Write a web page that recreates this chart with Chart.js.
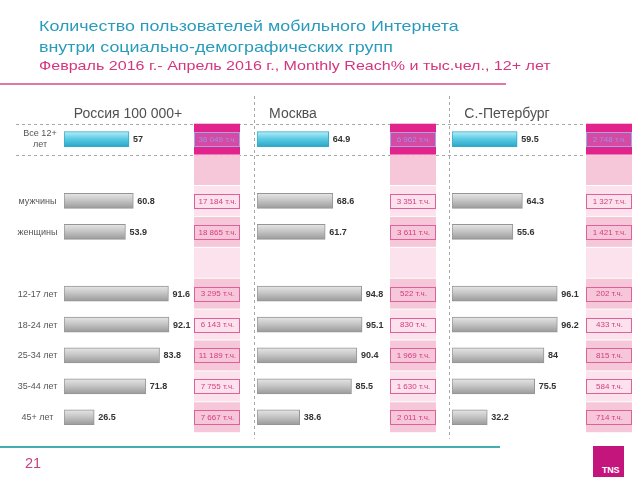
<!DOCTYPE html>
<html><head><meta charset="utf-8">
<script src="https://cdn.jsdelivr.net/npm/chart.js@4"></script>
<style>
body{margin:0;background:#fff;width:640px;height:480px;overflow:hidden;position:relative;font-family:"Liberation Sans",Arial,sans-serif;}
canvas{position:absolute;left:0;top:0;}
.t{position:absolute;white-space:nowrap;line-height:1;}
.s{transform:scaleX(1.19);transform-origin:0 0;}
.h{position:absolute;white-space:nowrap;line-height:1;font-size:14px;color:#505050;text-align:center;width:200px;}
</style></head><body>
<canvas id="c1" width="640" height="480"></canvas>
<canvas id="c2" width="640" height="480"></canvas>
<canvas id="c3" width="640" height="480"></canvas>
<div class="t s" style="left:39px;top:17.5px;font-size:15px;color:#2a9bbd">Количество пользователей мобильного Интернета</div>
<div class="t s" style="left:39px;top:39px;font-size:15px;color:#2a9bbd">внутри социально-демографических групп</div>
<div class="t s" style="left:39px;top:59px;font-size:13.5px;color:#d5357e">Февраль 2016 г.- Апрель 2016 г., Monthly Reach% и тыс.чел., 12+ лет</div>
<div style="position:absolute;left:0;top:83px;width:506px;height:2px;background:#dc7aa6"></div>
<div id="h1" class="h" style="left:28px;top:106px"></div>
<div id="h2" class="h" style="left:193px;top:106px"></div>
<div id="h3" class="h" style="left:407px;top:106px"></div>
<div style="position:absolute;left:0;top:446px;width:500px;height:2px;background:#45aeb0"></div>
<div class="t" style="left:25px;top:456px;font-size:14.5px;color:#c8407f">21</div>
<div style="position:absolute;left:593px;top:446px;width:31px;height:31px;background:#c4157c"></div>
<div class="t" style="left:602px;top:466px;font-size:9px;font-weight:bold;color:#fff;letter-spacing:-0.3px">TNS</div>
<script>
const categories = [['Все 12+','лет'],'','мужчины','женщины','','12-17 лет','18-24 лет','25-34 лет','35-44 лет','45+ лет'];
const reachRussia = [57,null,60.8,53.9,null,91.6,92.1,83.8,71.8,26.5];
const reachMoscow = [64.9,null,68.6,61.7,null,94.8,95.1,90.4,85.5,38.6];
const reachSpb    = [59.5,null,64.3,55.6,null,96.1,96.2,84,75.5,32.2];
const thousandsRussia = [36049,null,17184,18865,null,3295,6143,11189,7755,7667];
const thousandsMoscow = [6962,null,3351,3611,null,522,830,1969,1630,2011];
const thousandsSpb    = [2748,null,1327,1421,null,202,433,815,584,714];
const panelTitles = ['Россия 100 000+','Москва','С.-Петербург'];

document.getElementById('h1').textContent = panelTitles[0];
document.getElementById('h2').textContent = panelTitles[1];
document.getElementById('h3').textContent = panelTitles[2];

const FONT = '"Liberation Sans", Arial, sans-serif';
function fmt(v){ return String(v).replace(/\B(?=(\d{3})+(?!\d))/g,' '); }

function barFill(ctx){
  const chart = ctx.chart, ca = chart.chartArea;
  const isTotal = ctx.dataIndex === 0;
  if(!ca || ctx.dataIndex === undefined || !isFinite(ca.top) || !isFinite(ca.bottom)) return isTotal ? '#5fcde5' : '#c4c4c4';
  const slot = (ca.bottom - ca.top) / categories.length;
  const yc = ca.top + slot * (ctx.dataIndex + 0.5);
  const g = chart.ctx.createLinearGradient(0, yc-7.5, 0, yc+7.5);
  if(isTotal){
    g.addColorStop(0,'#b8eef8'); g.addColorStop(0.45,'#5fcde5'); g.addColorStop(1,'#2aa6c6');
  } else {
    g.addColorStop(0,'#e6e6e6'); g.addColorStop(0.45,'#c6c6c6'); g.addColorStop(1,'#9a9a9a');
  }
  return g;
}

function decor(cfg, thousands){
  return {
    id: 'decor'+cfg.id,
    beforeDatasetsDraw(chart){
      const {ctx, chartArea, scales:{y}} = chart;
      const slot = y.getPixelForValue(1) - y.getPixelForValue(0);
      const top = y.getPixelForValue(0) - slot/2;
      const bottom = y.getPixelForValue(categories.length-1) + slot/2;
      ctx.save();
      ctx.lineWidth = 1;
      ctx.strokeStyle = '#a8a8a8';
      ctx.setLineDash([3,3]);
      if(cfg.id === 0){
        [top, top+slot].forEach(v => {
          const yy = Math.round(v) + 0.5;
          ctx.beginPath(); ctx.moveTo(16, yy); ctx.lineTo(586, yy); ctx.stroke();
        });
      } else {
        const xx = Math.round(chartArea.left - 3) + 0.5;
        ctx.beginPath(); ctx.moveTo(xx, 96); ctx.lineTo(xx, bottom + 6); ctx.stroke();
      }
      ctx.setLineDash([]);
      const cx = chartArea.left + cfg.col;
      for(let i=0;i<categories.length;i++){
        const y0 = top + i*slot;
        if(i === 0){ ctx.fillStyle = '#e2238c'; ctx.fillRect(cx, y0, 46, slot); }
        else { ctx.fillStyle = (i % 2) ? '#f6c6d9' : '#fbe2ec'; ctx.fillRect(cx, y0 + 0.5, 46, slot - 1); }
      }
      ctx.restore();
    },
    afterDatasetsDraw(chart){
      const {ctx, chartArea, scales:{y}} = chart;
      const meta = chart.getDatasetMeta(0);
      const data = chart.data.datasets[0].data;
      const cx = chartArea.left + cfg.col;
      ctx.save();
      ctx.textBaseline = 'middle';
      for(let i=0;i<categories.length;i++){
        const yc = y.getPixelForValue(i);
        if(data[i] != null){
          const el = meta.data[i];
          ctx.font = 'bold 9px ' + FONT;
          ctx.fillStyle = '#333';
          ctx.textAlign = 'left';
          ctx.fillText(String(data[i]), el.x + 4, el.y + 0.5);
        }
        const v = thousands[i];
        if(v != null){
          const bx = Math.round(cx) + 0.5, by = Math.round(yc - 7) + 0.5;
          if(i === 0){
            ctx.fillStyle = '#d64aa4'; ctx.fillRect(bx, by, 45, 14);
            ctx.strokeStyle = '#9ea6e8';
          } else {
            ctx.strokeStyle = '#e0609c';
          }
          ctx.lineWidth = 1;
          ctx.strokeRect(bx, by, 45, 14);
          ctx.font = '8px ' + FONT;
          ctx.fillStyle = i === 0 ? '#9393ea' : '#d83a82';
          ctx.textAlign = 'center';
          ctx.fillText(fmt(v) + ' т.ч.', bx + 23, yc + 0.5);
        }
        if(cfg.id === 0){
          const lab = categories[i];
          ctx.font = '9px ' + FONT;
          ctx.fillStyle = '#555';
          ctx.textAlign = 'center';
          if(Array.isArray(lab)){
            ctx.fillText(lab[0], 40, yc - 5.5);
            ctx.fillText(lab[1], 40, yc + 5.5);
          } else if(lab){
            ctx.fillText(lab, 37.5, yc + 0.5);
          }
        }
      }
      ctx.restore();
    }
  };
}

function makeChart(id, reach, thousands, cfg){
  return new Chart(document.getElementById(id), {
    type: 'bar',
    data: { labels: categories, datasets: [{
      data: reach,
      backgroundColor: barFill,
      borderColor: c => c.dataIndex === 0 ? '#35a9c8' : '#959595',
      borderWidth: 1,
      borderSkipped: false,
      barThickness: 15
    }]},
    options: {
      indexAxis: 'y',
      responsive: false,
      animation: false,
      events: [],
      layout: { padding: { left: cfg.left, right: 640 - cfg.left - cfg.w, top: 123.7, bottom: 47.3 } },
      scales: { x: { display: false, min: 0, max: 100 }, y: { display: false } },
      plugins: { legend: { display: false }, tooltip: { enabled: false } }
    },
    plugins: [decor(cfg, thousands)]
  });
}

makeChart('c1', reachRussia, thousandsRussia, {id:0, left:64, w:114, col:130});
makeChart('c2', reachMoscow, thousandsMoscow, {id:1, left:257, w:110.5, col:133});
makeChart('c3', reachSpb, thousandsSpb, {id:2, left:452, w:109.5, col:134});
</script>
</body></html>
